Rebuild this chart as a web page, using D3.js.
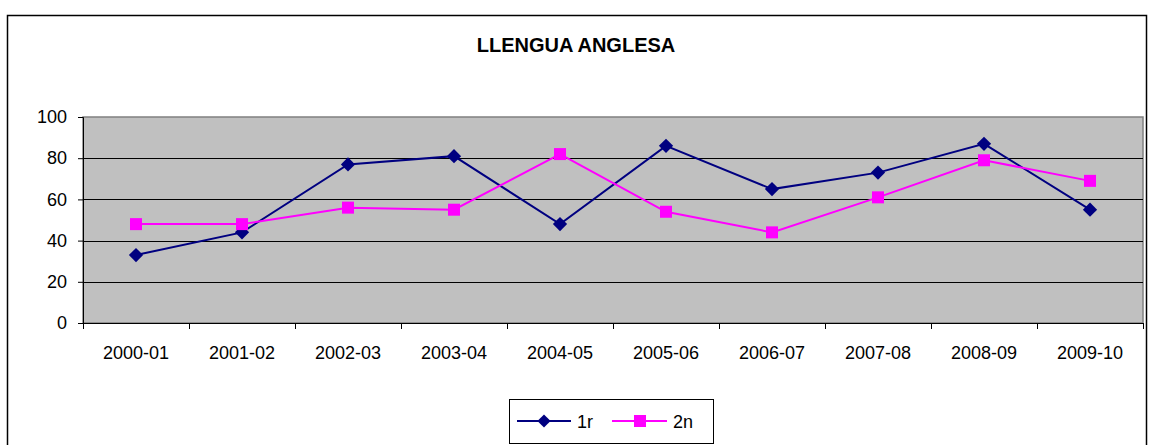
<!DOCTYPE html>
<html>
<head>
<meta charset="utf-8">
<script src="https://cdn.jsdelivr.net/npm/d3@7"></script>
<style>
  body { margin: 0; background: #fff; }
  svg { font-family: "Liberation Sans", Arial, sans-serif; }
</style>
</head>
<body>
<svg width="1149" height="445"></svg>
<script>
// data
var years = ["2000-01","2001-02","2002-03","2003-04","2004-05","2005-06","2006-07","2007-08","2008-09","2009-10"];
var primer = [33, 44, 77, 81, 48, 86, 65, 73, 87, 55];
var segon = [48, 48, 56, 55, 82, 54, 44, 61, 79, 69];
var yTicks = [0, 20, 40, 60, 80, 100];

function main(){
    var svg = d3.select("svg");

    // outer chart border
    svg.append("rect")
        .attr("x", 7.5).attr("y", 15.5)
        .attr("width", 1139).attr("height", 440)
        .attr("fill", "#fff").attr("stroke", "#000").attr("stroke-width", 1.5);

    svg.append("text")
        .attr("x", 576).attr("y", 52)
        .attr("text-anchor", "middle")
        .style("font-size", "20px").style("font-weight", "bold")
        .text("LLENGUA ANGLESA");

    var left = 83, top = 117, width = 1060, height = 206;

    var xScale = d3.scaleBand().domain(years).range([0, width]);
    var yScale = d3.scaleLinear().domain([0, 100]).range([height, 0]);

    var g = svg.append("g").attr("transform", "translate(" + left + "," + top + ")");

    g.append("rect")
        .attr("width", width).attr("height", height)
        .attr("fill", "#c0c0c0").attr("stroke", "#808080").attr("stroke-width", 1.5);

    // gridlines
    g.selectAll(".grid")
        .data(yTicks.slice(1, 5))
        .enter()
        .append("line")
        .attr("x1", 0).attr("x2", width)
        .attr("y1", function(d){return Math.round(yScale(d)) + 0.5;})
        .attr("y2", function(d){return Math.round(yScale(d)) + 0.5;})
        .attr("stroke", "#000").attr("stroke-width", 1);

    // axes
    var yAxis = g.append("g")
        .call(d3.axisLeft(yScale).tickValues(yTicks).tickSize(5).tickPadding(11));
    yAxis.selectAll("text").style("font-size", "18px").attr("fill", "#000");
    yAxis.selectAll("line, path").attr("stroke", "#000");

    var xAxis = g.append("g").attr("transform", "translate(0," + height + ")")
        .call(d3.axisBottom(xScale).tickSize(0).tickPadding(23));
    xAxis.select(".domain").attr("stroke", "#000");
    xAxis.selectAll("text").style("font-size", "18px").attr("fill", "#000");

    // category separator ticks
    xAxis.selectAll(".sep")
        .data(years.concat(["end"]))
        .enter()
        .append("line")
        .attr("x1", function(d, i){return i * xScale.step() + 0.5;})
        .attr("x2", function(d, i){return i * xScale.step() + 0.5;})
        .attr("y1", 0).attr("y2", 6)
        .attr("stroke", "#000");

    var cx = function(d, i){return xScale(years[i]) + xScale.bandwidth() / 2;};

    var line = d3.line()
        .x(function(d, i){return cx(d, i);})
        .y(function(d){return yScale(d);});

    // series 1r
    g.append("path").datum(primer)
        .attr("d", line).attr("fill", "none")
        .attr("stroke", "#000080").attr("stroke-width", 2);
    g.selectAll(".p1")
        .data(primer)
        .enter()
        .append("path")
        .attr("d", d3.symbol().type(d3.symbolDiamond2).size(130))
        .attr("transform", function(d, i){return "translate(" + cx(d, i) + "," + yScale(d) + ")";})
        .attr("fill", "#000080");

    // series 2n
    g.append("path").datum(segon)
        .attr("d", line).attr("fill", "none")
        .attr("stroke", "#ff00ff").attr("stroke-width", 2);
    g.selectAll(".p2")
        .data(segon)
        .enter()
        .append("rect")
        .attr("x", function(d, i){return cx(d, i) - 6;})
        .attr("y", function(d){return yScale(d) - 6;})
        .attr("width", 12).attr("height", 12)
        .attr("fill", "#ff00ff");

    // legend
    var lg = svg.append("g");
    lg.append("rect")
        .attr("x", 509.5).attr("y", 399.5)
        .attr("width", 204).attr("height", 44)
        .attr("fill", "#fff").attr("stroke", "#000");

    lg.append("line").attr("x1", 517).attr("x2", 571).attr("y1", 421).attr("y2", 421)
        .attr("stroke", "#000080").attr("stroke-width", 2);
    lg.append("path")
        .attr("d", d3.symbol().type(d3.symbolDiamond2).size(110))
        .attr("transform", "translate(544,421)")
        .attr("fill", "#000080");
    lg.append("text").attr("x", 577).attr("y", 428)
        .style("font-size", "18px").text("1r");

    lg.append("line").attr("x1", 612).attr("x2", 667).attr("y1", 421).attr("y2", 421)
        .attr("stroke", "#ff00ff").attr("stroke-width", 2);
    lg.append("rect").attr("x", 634).attr("y", 415).attr("width", 12).attr("height", 12)
        .attr("fill", "#ff00ff");
    lg.append("text").attr("x", 673).attr("y", 428)
        .style("font-size", "18px").text("2n");
}
main();
</script>
</body>
</html>
